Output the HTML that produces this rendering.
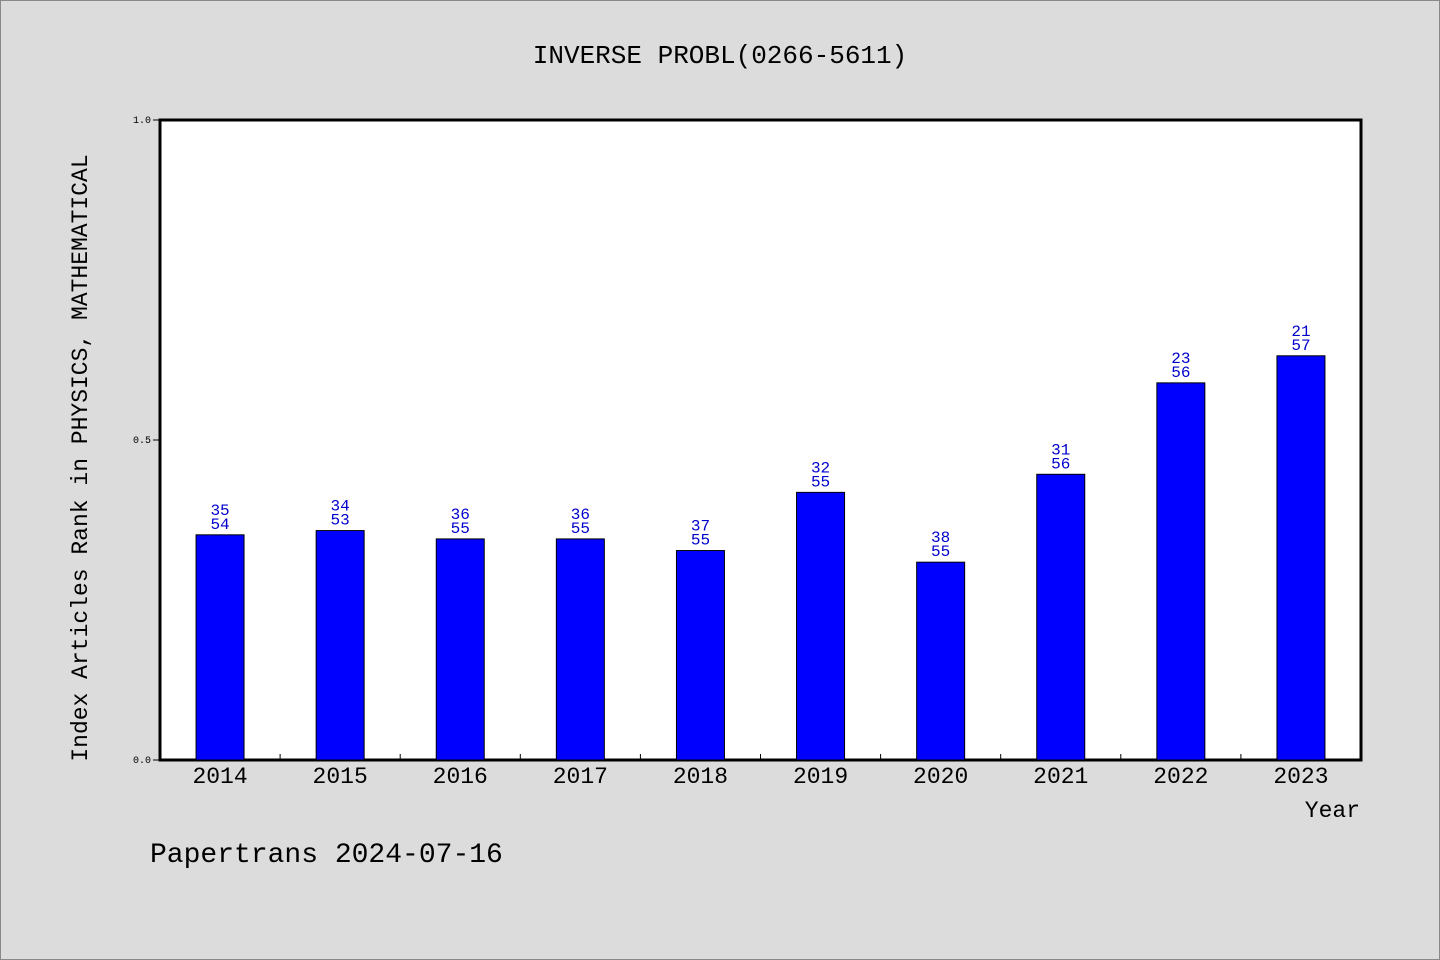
<!DOCTYPE html>
<html><head><meta charset="utf-8"><style>
body{margin:0;background:#dcdcdc;}
svg{display:block;font-family:"Liberation Mono","DejaVu Sans Mono",monospace;}
</style></head><body>
<svg width="1440" height="960">
<rect x="0.5" y="0.5" width="1439" height="959" fill="#dcdcdc" stroke="#888"/>
<text x="720" y="63" text-anchor="middle" font-size="26" fill="#000">INVERSE PROBL(0266-5611)</text>
<rect x="160" y="120" width="1201" height="640" fill="#fff" stroke="#000" stroke-width="3"/>
<g id="bars"></g>
<text x="87" y="458" transform="rotate(-90 87 458)" text-anchor="middle" font-size="23">Index Articles Rank in PHYSICS, MATHEMATICAL</text>
<text x="1360" y="817" text-anchor="end" font-size="23">Year</text>
<text x="150" y="862" font-size="28">Papertrans 2024-07-16</text>
</svg>
<script>
const years=["2014","2015","2016","2017","2018","2019","2020","2021","2022","2023"];
const ranks=[35,34,36,36,37,32,38,31,23,21];
const totals=[54,53,55,55,55,55,55,56,56,57];
const yTicks=[0.0,0.5,1.0];
const ns="http://www.w3.org/2000/svg";
const g=document.getElementById("bars");
const x0=160,w=1201,yTop=120,h=640;
const step=w/years.length;
const ys=v=>yTop+h-v*h;
function mk(t,a,txt){const e=document.createElementNS(ns,t);for(const k in a)e.setAttribute(k,a[k]);if(txt!=null)e.textContent=txt;g.appendChild(e);return e;}
yTicks.forEach(v=>{
 const l=mk("line",{x1:153,x2:160,y1:ys(v),y2:ys(v),stroke:"#000"});
 
 
 const t=mk("text",{x:151,y:ys(v)+3,"text-anchor":"end","font-size":10},v.toFixed(1));
 
 
});
years.forEach((yr,i)=>{
 const v=1-ranks[i]/totals[i];
 const cx=x0+step*(i+0.5);
 const r=mk("rect",{x:cx-24,y:ys(v),width:48,height:ys(0)-ys(v),fill:"#0000ff",stroke:"#000","stroke-width":1});
 
 
 const t1=mk("text",{x:cx,y:ys(v)-20,"text-anchor":"middle","font-size":16,fill:"#0000cc"},String(ranks[i]));
 
 
 const t2=mk("text",{x:cx,y:ys(v)-6,"text-anchor":"middle","font-size":16,fill:"#0000cc"},String(totals[i]));
 
 
 const xl=mk("text",{x:cx,y:783,"text-anchor":"middle","font-size":23},yr);
 
 
 if(i>0){const tk=mk("line",{x1:x0+step*i,x2:x0+step*i,y1:760,y2:754,stroke:"#000"});
 
 }
});
</script>
</body></html>
